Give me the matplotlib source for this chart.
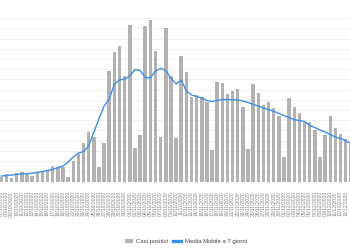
import pandas as pd
import numpy as np
import matplotlib
matplotlib.use('Agg')
import matplotlib.pyplot as plt
from matplotlib.patches import Patch
from matplotlib.lines import Line2D

START_DATE = '2020-10-07'
BAR_COLOR = '#b2b2b2'
LINE_COLOR = '#3b8fe8'

# casi positivi giornalieri
casi_positivi = [
    122, 184, 86, 201, 225, 184, 135, 216, 240, 282,
    380, 363, 363, 122, 510, 674, 943, 1225, 1098, 348,
    936, 2707, 3173, 3332, 2597, 3834, 809, 1139, 3810, 3957,
    3197, 1090, 3773, 2585, 1058, 3082, 2690, 2063, 2119, 2063,
    1955, 772, 2430, 2406, 2136, 2217, 2259, 1833, 789, 2381,
    2161, 1874, 1940, 1808, 1612, 593, 2038, 1833, 1671, 1465,
    1450, 1262, 600, 1139, 1605, 1311, 1164, 1041, 943,
]

# media mobile a 7 giorni
media_mobile = [
    135, 147, 159, 176, 184, 191, 201, 221, 245, 270,
    294, 343, 380, 478, 600, 698, 735, 870, 1213, 1531,
    1850, 2021, 2389, 2487, 2511, 2585, 2744, 2720, 2548, 2536,
    2707, 2773, 2720, 2536, 2389, 2487, 2217, 2119, 2083, 2046,
    1985, 1960, 1985, 2009, 2009, 2002, 1997, 1972, 1936, 1887,
    1850, 1801, 1764, 1720, 1666, 1617, 1568, 1514, 1495, 1470,
    1372, 1323, 1262, 1213, 1152, 1090, 1054, 1005, 931,
]

date_labels = pd.date_range(START_DATE, periods=len(casi_positivi),
                            freq='D').strftime('%d/%m/%Y').tolist()


def plot_chart(out='out.png'):
    plt.rcParams['font.family'] = ['Liberation Sans', 'DejaVu Sans']

    fig = plt.figure(figsize=(3.5, 2.5), dpi=100)
    ax = fig.add_axes([0.0, 0.274, 1.0, 0.653])

    x = np.arange(len(casi_positivi))
    ax.bar(x, casi_positivi, width=0.68, color=BAR_COLOR, zorder=2)
    ax.plot(x, media_mobile, color=LINE_COLOR, linewidth=1.0, zorder=3)

    x_right = 67.84
    ax.set_xlim(-0.253, x_right)
    ax.set_ylim(0, 4000)
    ax.set_yticks(np.arange(0, 4001, 250))
    ax.yaxis.grid(True, color='#efefef', linewidth=0.7, zorder=0)
    ax.tick_params(axis='y', left=False, labelleft=False)

    # solo le etichette dei giorni che restano dentro l'area visibile
    visibili = [i for i in x if i + 0.4 < x_right]
    ax.set_xticks(visibili)
    ax.set_xticklabels([date_labels[i] for i in visibili], rotation=90,
                       fontsize=3.6, color='#808080')
    ax.tick_params(axis='x', length=0, pad=7)

    for side in ['top', 'right', 'left', 'bottom']:
        ax.spines[side].set_visible(False)

    handles = [
        Patch(facecolor=BAR_COLOR, edgecolor='none', label='Casi positivi'),
        Line2D([0], [0], color=LINE_COLOR, linewidth=2.4,
               label='Media Mobile a 7 giorni'),
    ]
    fig.legend(handles=handles, loc='center', bbox_to_anchor=(0.531, 0.033),
               ncol=2, frameon=False, fontsize=4.3, handlelength=1.3,
               handletextpad=0.6, columnspacing=0.8, labelcolor='#444444')

    fig.savefig(out, dpi=100)
    plt.close(fig)


def main():
    plot_chart()


if __name__ == '__main__':
    main()
